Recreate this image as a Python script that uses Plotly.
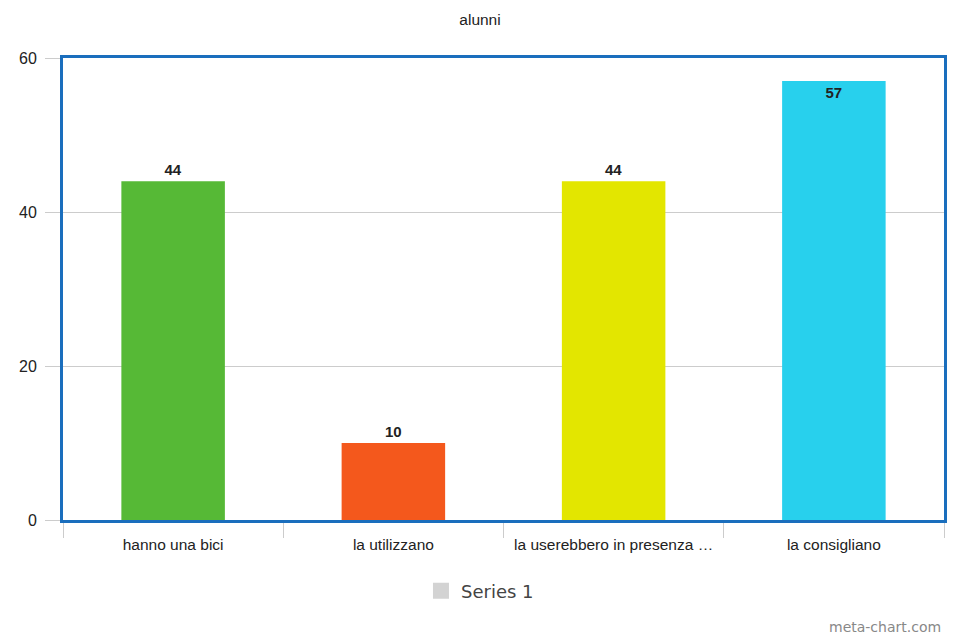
import plotly.graph_objects as go

categories = ["hanno una bici", "la utilizzano", "la userebbero in presenza …", "la consigliano"]
values = [44, 10, 44, 57]
bar_colors = ["#56b936", "#f4581c", "#e3e600", "#28d0ed"]
text_positions = ["outside", "outside", "outside", "inside"]
series_name = "Series 1"
title_text = "alunni"
y_ticks = [0, 20, 40, 60]

label_font = dict(family="Liberation Sans", size=15, color="#222222", weight="bold")

fig = go.Figure()
fig.add_trace(go.Bar(
    x=categories, y=values,
    marker=dict(color=bar_colors, line=dict(width=0)),
    width=0.47,
    text=[str(v) for v in values],
    textposition=text_positions,
    insidetextanchor="end",
    textfont=label_font,
    outsidetextfont=label_font,
    insidetextfont=label_font,
    cliponaxis=False,
    showlegend=False,
    hoverinfo="x+y",
))
fig.add_trace(go.Scatter(
    x=[None], y=[None], mode="markers", name=series_name,
    marker=dict(symbol="square", size=20, color="#d3d3d3"),
    showlegend=True,
))

fig.update_layout(
    width=952, height=632,
    margin=dict(l=55, r=16, t=50, b=120),
    paper_bgcolor="white", plot_bgcolor="white",
    barmode="overlay",
    title=dict(text=title_text, x=0.4958, xanchor="center", y=0.981, yanchor="middle",
               font=dict(family="Liberation Sans", size=15.5, color="#222222")),
    font=dict(family="Liberation Sans", size=15, color="#222222"),
    legend=dict(orientation="h", x=0.4733, xanchor="center", y=-0.1537, yanchor="middle",
                font=dict(family="DejaVu Sans", size=18, color="#444444")),
    xaxis=dict(
        type="category", tickson="boundaries", ticks="outside", ticklen=15,
        tickcolor="#cccccc", showgrid=False, showline=True, linecolor="#1a6ebd",
        linewidth=3, mirror=True, tickfont=dict(size=15.5, color="#222222"),
        ticklabelstandoff=8, fixedrange=True,
    ),
    yaxis=dict(
        range=[0, 60], tickvals=y_ticks, ticks="outside", ticklen=15,
        tickcolor="#cccccc", showgrid=True, gridcolor="#cccccc", gridwidth=1,
        showline=True, linecolor="#1a6ebd", linewidth=3, mirror=True,
        zeroline=False, tickfont=dict(size=16, color="#222222"),
        ticklabelstandoff=5, fixedrange=True,
    ),
    annotations=[dict(
        text="meta-chart.com", xref="paper", yref="paper", x=0.999, y=-0.2316,
        xanchor="right", yanchor="middle", showarrow=False,
        font=dict(family="DejaVu Sans", size=14, color="#888888"),
    )],
)

fig.write_html("out.html")
